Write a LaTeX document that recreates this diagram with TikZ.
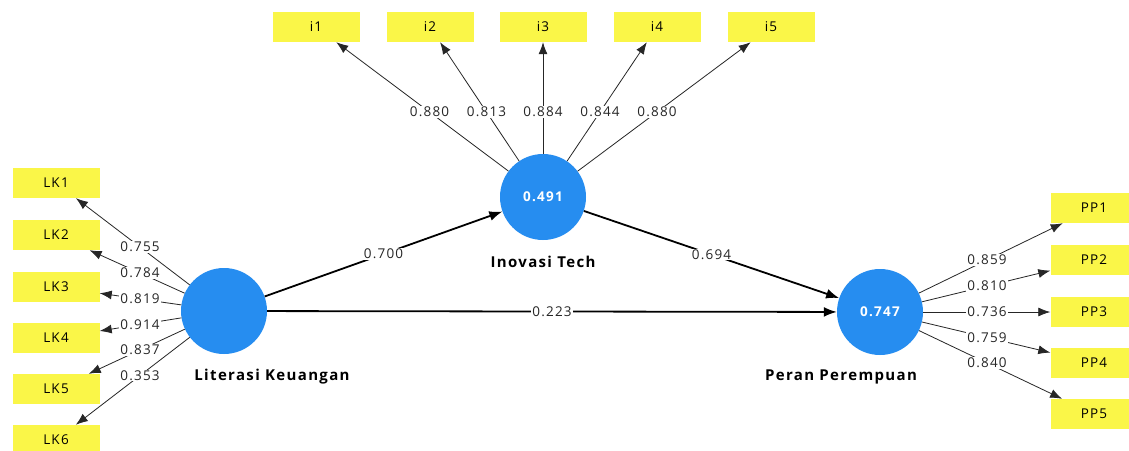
\documentclass[tikz,border=0pt]{standalone}
\usepackage{fontspec}
\setmainfont{Open Sans}[LetterSpace=9]
\usetikzlibrary{arrows.meta,calc}

\definecolor{lvblue}{RGB}{38,141,240}
\definecolor{indyellow}{RGB}{250,246,72}

\begin{document}
\begin{tikzpicture}[
        x=1pt, y=-1pt,
        latent/.style={circle, fill=lvblue, minimum size=86pt, inner sep=0pt,
            text=white, font=\bfseries\fontsize{13.5}{15}\selectfont},
        indicator/.style={rectangle, fill=indyellow, minimum width=87pt,
            minimum height=30pt, inner sep=0pt, font=\fontsize{13.5}{15}\selectfont},
        lvname/.style={font=\bfseries\fontsize{15}{17}\selectfont},
        weight/.style={fill=white, inner sep=1pt, text=black!85,
            font=\fontsize{13.5}{15}\selectfont},
        loading/.style={-{Latex[length=12pt,width=9pt]}, line width=0.8pt, black!85},
        structural/.style={-{Latex[length=13pt,width=10pt]}, line width=1.8pt},
    ]
        \path[use as bounding box, fill=white] (0,0) rectangle (1129,450);

        % Define Latent Variable Nodes
        \node[latent] (lk) at (224,311) {};
        \node[latent] (it) at (543,197) {0.491};
        \node[latent] (pp) at (880,312) {0.747};

        \node[lvname] (lkname) at (272,377) {Literasi Keuangan};
        \node[lvname] (itname) at (543,262) {Inovasi Tech};
        \node[lvname] (ppname) at (841,377) {Peran Perempuan};

        % Define Indicator Nodes (left, top, right)
        \node[indicator] (lk1) at (56,183) {LK1};
        \node[indicator] (lk2) at (56,235) {LK2};
        \node[indicator] (lk3) at (56,287) {LK3};
        \node[indicator] (lk4) at (56,338) {LK4};
        \node[indicator] (lk5) at (56,389) {LK5};
        \node[indicator] (lk6) at (56,440) {LK6};

        \node[indicator] (i1) at (316,27) {i1};
        \node[indicator] (i2) at (430,27) {i2};
        \node[indicator] (i3) at (543,27) {i3};
        \node[indicator] (i4) at (657,27) {i4};
        \node[indicator] (i5) at (771,27) {i5};

        \node[indicator] (pp1) at (1094,208) {PP1};
        \node[indicator] (pp2) at (1094,260) {PP2};
        \node[indicator] (pp3) at (1094,312) {PP3};
        \node[indicator] (pp4) at (1094,363) {PP4};
        \node[indicator] (pp5) at (1094,414) {PP5};

        % Draw Loadings (Latent -> Indicator)
        \draw[loading] (lk) -- (lk1);
        \draw[loading] (lk) -- (lk2);
        \draw[loading] (lk) -- (lk3);
        \draw[loading] (lk) -- (lk4);
        \draw[loading] (lk) -- (lk5);
        \draw[loading] (lk) -- (lk6);
        \draw[loading] (it) -- (i1);
        \draw[loading] (it) -- (i2);
        \draw[loading] (it) -- (i3);
        \draw[loading] (it) -- (i4);
        \draw[loading] (it) -- (i5);
        \draw[loading] (pp) -- (pp1);
        \draw[loading] (pp) -- (pp2);
        \draw[loading] (pp) -- (pp3);
        \draw[loading] (pp) -- (pp4);
        \draw[loading] (pp) -- (pp5);

        % Draw Path Coefficients (Latent -> Latent)
        \draw[structural] (lk) -- (it);
        \draw[structural] (it) -- (pp);
        \draw[structural] (lk) -- (pp);

        % Weights half way between the centres
        \node[weight] (wlk1) at ($(lk)!.5!(lk1)$) {0.755};
        \node[weight] (wlk2) at ($(lk)!.5!(lk2)$) {0.784};
        \node[weight] (wlk3) at ($(lk)!.5!(lk3)$) {0.819};
        \node[weight] (wlk4) at ($(lk)!.5!(lk4)$) {0.914};
        \node[weight] (wlk5) at ($(lk)!.5!(lk5)$) {0.837};
        \node[weight] (wlk6) at ($(lk)!.5!(lk6)$) {0.353};
        \node[weight] (wi1) at ($(it)!.5!(i1)$) {0.880};
        \node[weight] (wi2) at ($(it)!.5!(i2)$) {0.813};
        \node[weight] (wi3) at ($(it)!.5!(i3)$) {0.884};
        \node[weight] (wi4) at ($(it)!.5!(i4)$) {0.844};
        \node[weight] (wi5) at ($(it)!.5!(i5)$) {0.880};
        \node[weight] (wpp1) at ($(pp)!.5!(pp1)$) {0.859};
        \node[weight] (wpp2) at ($(pp)!.5!(pp2)$) {0.810};
        \node[weight] (wpp3) at ($(pp)!.5!(pp3)$) {0.736};
        \node[weight] (wpp4) at ($(pp)!.5!(pp4)$) {0.759};
        \node[weight] (wpp5) at ($(pp)!.5!(pp5)$) {0.840};
        \node[weight] (wlkit) at ($(lk)!.5!(it)$) {0.700};
        \node[weight] (witpp) at ($(it)!.5!(pp)$) {0.694};
        \node[weight] (wlkpp) at ($(lk)!.5!(pp)$) {0.223};
    \end{tikzpicture}
\end{document}
